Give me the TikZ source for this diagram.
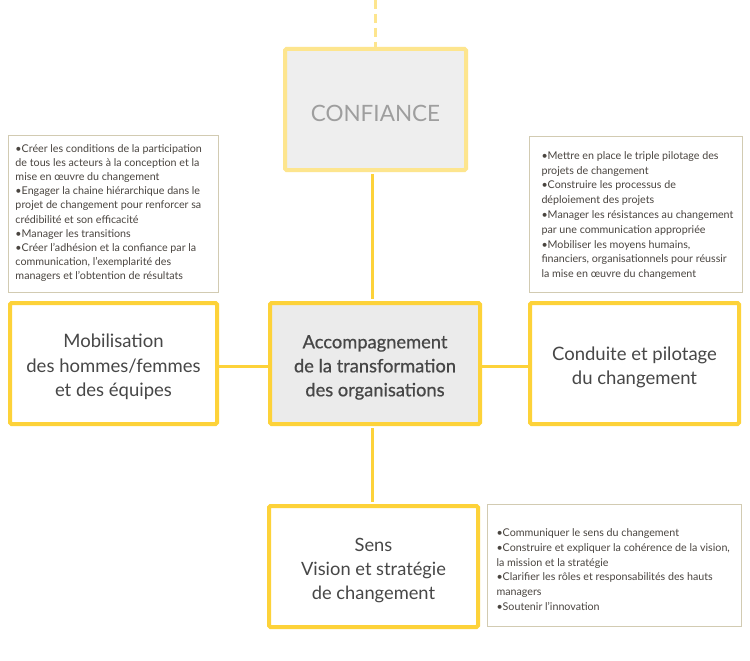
\documentclass[tikz,border=0pt]{standalone}
\usepackage{fontspec}
\setmainfont{Lato}
\newfontfamily\medfont[FakeBold=0.7]{Lato}
\definecolor{ybord}{HTML}{FDD239}
\definecolor{yfade}{HTML}{FDE58E}
\definecolor{cfill}{HTML}{EBEBEB}
\definecolor{conffill}{HTML}{EEEEEE}
\definecolor{tbord}{HTML}{D2CBB2}
\definecolor{bigtext}{HTML}{474747}
\definecolor{smalltext}{HTML}{4A4540}
\definecolor{conftext}{HTML}{9E9E9E}
\newcommand\bl[1]{\raisebox{0pt}[\dimexpr\height+8pt\relax][\depth]{\begin{tabular}{@{}c@{}}#1\end{tabular}}}
\begin{document}
\begin{tikzpicture}[x=1pt,y=-1pt,
  bigbox/.style={draw=ybord,line width=4pt,rounded corners=1.5pt,fill=white,
    minimum width=207pt,minimum height=121pt,inner sep=0pt,align=center,
    text=bigtext,font=\fontsize{18.5}{24.5}\selectfont},
  txtbox/.style={draw=tbord,line width=1.3pt,fill=white,inner sep=0pt,
    align=left,text=smalltext,font=\fontsize{10.7}{14.8}\selectfont},
  txtin/.style={txtbox,draw=none,fill=none,anchor=west},
  link/.style={draw=ybord,line width=3pt}]
\useasboundingbox (0,0) rectangle (750,661);
\fill[white] (0,0) rectangle (750,661);
% boxes
\node[bigbox,draw=yfade,fill=conffill,minimum width=181pt,text=conftext,
  font=\fontsize{22.5}{26}\selectfont] (conf) at (375.5,109.5)
  {\raisebox{0pt}[\dimexpr\height+7pt\relax][\depth]{CONFIANCE}};
\node[bigbox,fill=cfill,minimum width=210pt,font=\fontsize{18.3}{24}\medfont] (ctr) at (375,363.5)
  {\bl{Accompagnement\\de la transformation\\des organisations}};
\node[bigbox] (left) at (113.5,363.5) {\bl{Mobilisation\\des hommes/femmes\\et des équipes}};
\node[bigbox,minimum width=209pt] (right) at (634.5,363.5) {\bl{Conduite et pilotage\\du changement}};
\node[bigbox,minimum width=209pt,font=\fontsize{18.3}{24}\selectfont] (bot) at (373.5,566.5)
  {\bl{Sens\\Vision et stratégie\\de changement}};
% text boxes
\node[txtbox,minimum width=210pt,minimum height=157pt] (ltxt) at (113.5,214) {};
\node[txtin,font=\fontsize{10.7}{14.2}\selectfont] at ([xshift=7pt,yshift=1pt]ltxt.west)
  {•Créer les conditions de la participation\\
   de tous les acteurs à la conception et la\\
   mise en œuvre du changement\\
   •Engager la chaine hiérarchique dans le\\
   projet de changement pour renforcer sa\\
   crédibilité et son efficacité\\
   •Manager les transitions\\
   •Créer l’adhésion et la confiance par la\\
   communication, l’exemplarité des\\
   managers et l’obtention de résultats};
\node[txtbox,minimum width=213pt,minimum height=156pt] (rtxt) at (636,214.5) {};
\node[txtin] at ([xshift=12pt,yshift=-1pt]rtxt.west)
  {•Mettre en place le triple pilotage des\\
   projets de changement\\
   •Construire les processus de\\
   déploiement des projets\\
   •Manager les résistances au changement\\
   par une communication appropriée\\
   •Mobiliser les moyens humains,\\
   financiers, organisationnels pour réussir\\
   la mise en œuvre du changement};
\node[txtbox,minimum width=254pt,minimum height=122pt] (btxt) at (614.5,565.5) {};
\node[txtin] at ([xshift=9pt,yshift=-4pt]btxt.west)
  {•Communiquer le sens du changement\\
   •Construire et expliquer la cohérence de la vision,\\
   la mission et la stratégie\\
   •Clarifier les rôles et responsabilités des hauts\\
   managers\\
   •Soutenir l’innovation};
% connectors
\coordinate (topend) at (375.5,0);
\draw[draw=yfade,line width=2.5pt,dash pattern=on 9pt off 5pt] (topend) -- (conf.north);
\draw[link] ([xshift=-3.5pt,yshift=-2pt]conf.south) -- ([xshift=-3.5pt,yshift=2pt]conf.south |- ctr.north);
\draw[link] ([xshift=-3pt,yshift=-2pt]ctr.south) -- ([xshift=-3pt,yshift=2pt]ctr.south |- bot.north);
\draw[link] ([xshift=-2pt,yshift=-2.5pt]left.east) -- ([xshift=2pt,yshift=-2.5pt]ctr.west);
\draw[link] ([xshift=-2pt,yshift=-2.5pt]ctr.east) -- ([xshift=2pt,yshift=-2.5pt]right.west);
\end{tikzpicture}
\end{document}
